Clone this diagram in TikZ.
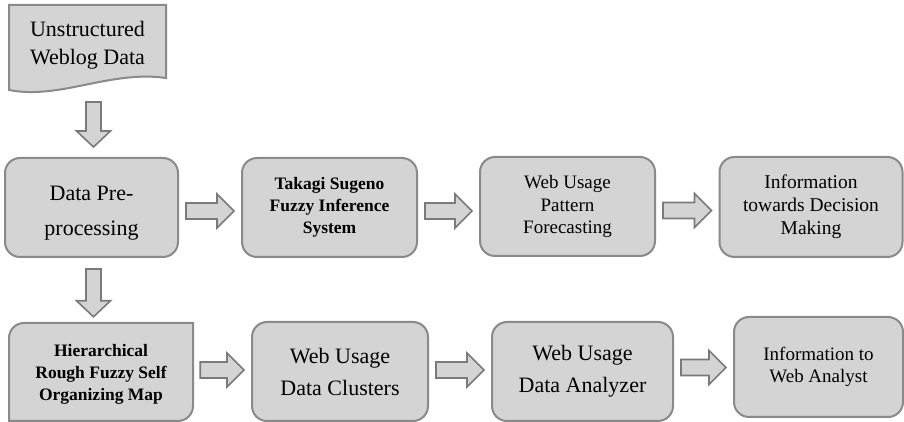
\documentclass[tikz,border=0pt]{standalone}
\usepackage{fontspec}
\setmainfont{Liberation Serif}
\usetikzlibrary{calc}
\definecolor{boxfill}{HTML}{D4D4D4}
\definecolor{boxline}{HTML}{8A8A8A}
\definecolor{arrline}{HTML}{7A7A7A}
\tikzset{
  box/.style={draw=boxline, line width=2pt, fill=boxfill, rounded corners=15pt, align=center, inner sep=0pt},
  hbox/.style={draw=boxline, line width=2pt, fill=boxfill},
  fat/.style={draw=arrline, line width=1.6pt, fill=boxfill, line join=miter},
  fbig/.style={font=\fontsize{22}{32}\selectfont},
  fdoc/.style={font=\fontsize{22}{27.5}\selectfont},
  fbold/.style={font=\fontsize{17.5}{22}\selectfont\bfseries},
  fmid/.style={font=\fontsize{19}{22.5}\selectfont},
}
% horizontal fat arrow between two nodes: from, to, vertical offset
\newcommand\fatR[3]{%
  \path[fat] let \p1=($(#1.east)+(7pt,#3)$), \p2=($(#2.west)+(-7pt,#3)$) in
    (\x1,\y1-8pt) -- (\x2-17pt,\y1-8pt) -- (\x2-17pt,\y1-17pt) -- (\x2,\y1)
    -- (\x2-17pt,\y1+17pt) -- (\x2-17pt,\y1+8pt) -- (\x1,\y1+8pt) -- cycle;}
% vertical fat arrow between two coordinates
\newcommand\fatD[2]{%
  \path[fat] let \p1=(#1), \p2=(#2) in
    (\x1-7.5pt,\y1) -- (\x1-7.5pt,\y2+16pt) -- (\x1-17pt,\y2+16pt) -- (\x1,\y2)
    -- (\x1+17pt,\y2+16pt) -- (\x1+7.5pt,\y2+16pt) -- (\x1+7.5pt,\y1) -- cycle;}
\begin{document}
\begin{tikzpicture}[x=1pt,y=1pt]
\useasboundingbox[fill=white] (0,0) rectangle (904,422);

% document shape
\path[hbox] (9,332) -- (9,417) -- (166,417) -- (166,344)
  .. controls (110,352) and (60,322) .. (9,332) -- cycle;
\node[fdoc, align=center] (b1) at (87.5,377) {Unstructured\\Weblog Data};
\coordinate (b1bot) at (93.5,320);

% row 1
\node[box, fbig, minimum width=173pt, minimum height=99pt] (b2) at (91.5,214.5) {};
\node[fbig, align=center, font=\fontsize{22}{35}\selectfont] (b2t) at (91.5,209) {Data Pre-\\processing};
\node[box, fbold, minimum width=175pt, minimum height=99pt] (b3) at (329.5,214.5) {Takagi Sugeno\\Fuzzy Inference\\System};
\node[box, fmid, minimum width=175pt, minimum height=99pt] (b4) at (567.5,215.5) {Web Usage\\Pattern\\Forecasting};
\node[box, fmid, font=\fontsize{19.5}{23}\selectfont, minimum width=183pt, minimum height=100pt] (b5) at (811,215) {Information\\towards Decision\\Making};

% row 2
\path[hbox] (9,1) [rounded corners=15pt] -- (9,99) [sharp corners] -- (193,99)
  [rounded corners=15pt] -- (193,1) [sharp corners] -- cycle;
\node[fbold, align=center, minimum width=184pt, minimum height=98pt, inner sep=0pt] (b6) at (101,48) {Hierarchical\\Rough Fuzzy Self\\Organizing Map};
\node[box, fbig, minimum width=176pt, minimum height=99pt] (b7) at (340,50.5) {Web Usage\\Data Clusters};
\node[box, fbig, minimum width=181pt, minimum height=99pt] (b8) at (582.5,50.5) {Web Usage\\Data Analyzer};
\node[box, fmid, minimum width=169pt, minimum height=100pt] (b9) at (818.5,55) {Information to\\Web Analyst};

% arrows
\fatD{b1bot}{$(b2.north)+(2pt,10pt)$}
\fatD{$(b2.south)+(2pt,-11pt)$}{$(b6.north)+(-8pt,8pt)$}
\fatR{b2}{b3}{-3.5pt}
\fatR{b3}{b4}{-3.5pt}
\fatR{b4}{b5}{-4pt}
\fatR{b6}{b7}{4pt}
\fatR{b7}{b8}{1.5pt}
\fatR{b8}{b9}{4pt}
\end{tikzpicture}
\end{document}
